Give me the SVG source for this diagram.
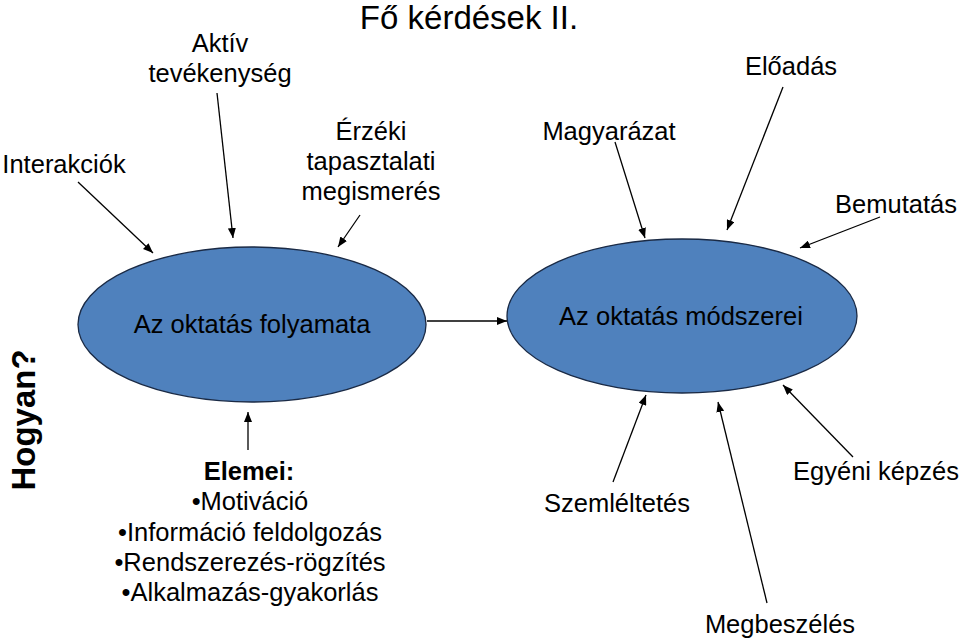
<svg xmlns="http://www.w3.org/2000/svg" width="960" height="642" viewBox="0 0 960 642">
<style>
  text { font-family: "Liberation Sans", Arial, sans-serif; fill: #000; }
  .t { font-size: 25.5px; text-anchor: middle; }
  .title { font-size: 33px; text-anchor: middle; }
  .node ellipse { fill: #4F81BD; stroke: #1a2a45; stroke-width: 1.3; }
  .conn line { stroke: #000; stroke-width: 1.3; marker-end: url(#ah); }
</style>
<defs>
  <marker id="ah" viewBox="0 0 10 8" refX="10" refY="4" markerWidth="10" markerHeight="8" markerUnits="userSpaceOnUse" orient="auto">
    <path d="M0,0 L10,4 L0,8 z" fill="#000"/>
  </marker>
</defs>
<rect width="960" height="642" fill="#fff"/>
<text class="title" x="469" y="29">Fő kérdések II.</text>
<text transform="translate(35,420) rotate(-90)" style="font-size:33px;font-weight:bold;text-anchor:middle">Hogyan?</text>

<g id="folyamata" class="node">
  <ellipse cx="252" cy="324.5" rx="174" ry="77.5"/>
  <text class="t" x="252" y="333">Az oktatás folyamata</text>
</g>
<g id="modszerei" class="node">
  <ellipse cx="682" cy="316" rx="175" ry="77"/>
  <text class="t" x="681" y="325">Az oktatás módszerei</text>
</g>

<g id="aktiv"><text class="t" x="220" y="52">Aktív</text><text class="t" x="220" y="82">tevékenység</text></g>
<g id="interakciok"><text class="t" x="64" y="173">Interakciók</text></g>
<g id="erzeki"><text class="t" x="371" y="140">Érzéki</text><text class="t" x="371" y="170">tapasztalati</text><text class="t" x="371" y="200">megismerés</text></g>
<g id="magyarazat"><text class="t" x="609" y="140">Magyarázat</text></g>
<g id="eloadas"><text class="t" x="791" y="75">Előadás</text></g>
<g id="bemutatas"><text class="t" x="896" y="213">Bemutatás</text></g>
<g id="elemei">
  <text class="t" x="249" y="480" style="font-weight:bold">Elemei:</text>
  <text class="t" x="250" y="510">•Motiváció</text>
  <text class="t" x="250" y="541">•Információ feldolgozás</text>
  <text class="t" x="250" y="571">•Rendszerezés-rögzítés</text>
  <text class="t" x="250" y="601">•Alkalmazás-gyakorlás</text>
</g>
<g id="szemleltetes"><text class="t" x="617" y="512">Szemléltetés</text></g>
<g id="megbeszeles"><text class="t" x="780" y="633">Megbeszélés</text></g>
<g id="egyeni"><text class="t" x="876" y="480">Egyéni képzés</text></g>

<g id="connectors" class="conn">
  <line x1="78" y1="182" x2="153" y2="253"/>
  <line x1="217" y1="93" x2="233" y2="238"/>
  <line x1="360" y1="215" x2="338" y2="247"/>
  <line x1="615" y1="142" x2="645" y2="238"/>
  <line x1="783" y1="87" x2="727" y2="230"/>
  <line x1="880" y1="217" x2="800" y2="248"/>
  <line x1="427" y1="321" x2="507" y2="321"/>
  <line x1="248" y1="450" x2="248" y2="412"/>
  <line x1="613" y1="482" x2="646" y2="395"/>
  <line x1="767" y1="603" x2="718" y2="402"/>
  <line x1="853" y1="457" x2="783" y2="385"/>
</g>
</svg>
